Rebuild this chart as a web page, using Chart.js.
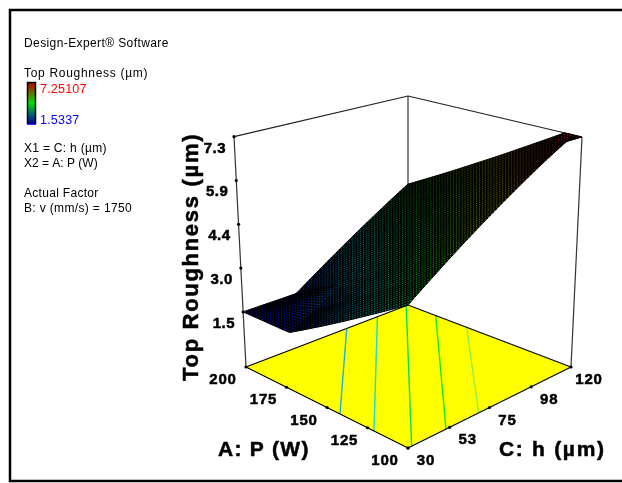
<!DOCTYPE html>
<html>
<head>
<meta charset="utf-8">
<title>Top Roughness</title>
<script src="https://cdn.jsdelivr.net/npm/chart.js@4"></script>
<style>
    html, body { margin: 0; padding: 0; background: #fff; overflow: hidden; }
    canvas { display: block; }
</style>
</head>
<body>
<canvas id="chart" width="622" height="483"></canvas>
<script>
// readings
const hGrid = [30, 45, 59, 75, 98, 112, 120];
const pGrid = [100, 110, 125, 150, 172, 200];
const roughness = [
    [3.85, 4.47, 5.06, 5.73, 6.69, 7.25, 7.25],
    [3.53, 4.12, 4.71, 5.38, 6.34, 6.92, 7.25],
    [3.05, 3.60, 4.18, 4.85, 5.81, 6.39, 6.73],
    [2.24, 2.76, 3.30, 3.96, 4.93, 5.51, 5.85],
    [1.53, 1.96, 2.52, 3.19, 4.15, 4.73, 5.07],
    [1.53, 1.53, 1.53, 2.20, 3.16, 3.75, 4.08]
];

const hTicks = [30, 53, 75, 98, 120];
const pTicks = [200, 175, 150, 125, 100];
const zTicks = [1.53, 2.96, 4.39, 5.82, 7.25];
const zTickLabels = ["1.5", "3.0", "4.4", "5.9", "7.3"];

// floor contours: [h, P] at both ends
const contourEnds = [
    [[86, 200], [30, 142]],
    [[103, 200], [30, 121]],
    [[119, 200], [32, 100]],
    [[120, 183], [51, 100]],
    [[120, 164], [69, 100]]
];
const contourColors = ["#12b4e6", "#17dcd2", "#00e060", "#10e828", "#96ee3c"];

const zFloor = -0.27;
const zMin = 1.53;
const zMax = 7.25;
const meshSize = 60;

// screen position of the box corners
const floorCorners = { L: [246, 367], F: [408, 448], R: [571, 367], B: [408, 305] };
const topCorners = { L: [234, 136.7], F: [408, 187], R: [582, 137], B: [408, 96] };

function bilinear(c, u, v) {
    const f = i => (1 - u) * (1 - v) * c.L[i] + u * (1 - v) * c.F[i] + u * v * c.R[i] + (1 - u) * v * c.B[i];
    return [f(0), f(1)];
}

function project(h, p, z) {
    const u = (200 - p) / 100;
    const v = (h - 30) / 90;
    const a = bilinear(floorCorners, u, v);
    const b = bilinear(topCorners, u, v);
    const t = (z - zFloor) / (zMax - zFloor);
    return { x: a[0] + (b[0] - a[0]) * t, y: a[1] + (b[1] - a[1]) * t };
}

function findCell(list, val) {
    let i = 0;
    while (i < list.length - 2 && val > list[i + 1]) i++;
    return i;
}

// only used to paint the mesh between the readings
function surfaceAt(h, p) {
    const i = findCell(hGrid, h);
    const j = findCell(pGrid, p);
    const a = (h - hGrid[i]) / (hGrid[i + 1] - hGrid[i]);
    const b = (p - pGrid[j]) / (pGrid[j + 1] - pGrid[j]);
    return (1 - a) * (1 - b) * roughness[j][i] + a * (1 - b) * roughness[j][i + 1] +
        (1 - a) * b * roughness[j + 1][i] + a * b * roughness[j + 1][i + 1];
}

function jet(z, alpha) {
    const stops = [[0, 0, 255], [0, 255, 255], [0, 255, 0], [255, 255, 0], [255, 0, 0]];
    const t = Math.min(Math.max((z - zMin) / (zMax - zMin), 0), 1) * 4;
    const i = Math.min(Math.floor(t), 3);
    const k = t - i;
    const c = stops[i].map((s, n) => Math.round(s + (stops[i + 1][n] - s) * k));
    return `rgba(${c[0]},${c[1]},${c[2]},${alpha})`;
}

const surfacePlugin = {
    id: "surface",
    afterDatasetsDraw(chart) {
        const ctx = chart.ctx;
        const sx = chart.scales.x;
        const sy = chart.scales.y;
        const px = (h, p) => {
            const q = project(h, p, surfaceAt(h, p));
            return [sx.getPixelForValue(q.x), sy.getPixelForValue(q.y)];
        };
        ctx.save();
        ctx.lineWidth = 1;
        ctx.strokeStyle = "#000";
        ctx.fillStyle = "#000";
        const dots = [];
        for (let m = 0; m < meshSize; m++) {
            for (let n = meshSize - 1; n >= 0; n--) {
                const p0 = 200 - 100 * m / meshSize;
                const p1 = 200 - 100 * (m + 1) / meshSize;
                const h0 = 30 + 90 * n / meshSize;
                const h1 = 30 + 90 * (n + 1) / meshSize;
                const a = px(h0, p0), b = px(h1, p0), c = px(h1, p1), d = px(h0, p1);
                ctx.beginPath();
                ctx.moveTo(a[0], a[1]);
                ctx.lineTo(b[0], b[1]);
                ctx.lineTo(c[0], c[1]);
                ctx.lineTo(d[0], d[1]);
                ctx.closePath();
                ctx.fill();
                ctx.stroke();
                // bigger mesh cell on screen = more colour left between the black lines
                const area = Math.abs((c[0] - a[0]) * (d[1] - b[1]) - (c[1] - a[1]) * (d[0] - b[0])) / 2;
                dots.push({
                    x: (a[0] + c[0]) / 2,
                    y: (a[1] + c[1]) / 2,
                    z: surfaceAt((h0 + h1) / 2, (p0 + p1) / 2),
                    alpha: Math.min(Math.max((area - 4.2) / 3.5, 0.12), 0.85)
                });
            }
        }
        dots.forEach(dot => {
            ctx.fillStyle = jet(dot.z, dot.alpha);
            ctx.fillRect(dot.x - 0.55, dot.y - 0.55, 1.1, 1.1);
        });
        ctx.restore();
    }
};

const textPlugin = {
    id: "labels",
    afterDraw(chart) {
        const ctx = chart.ctx;
        const sx = chart.scales.x;
        const sy = chart.scales.y;
        const font = "Liberation Sans, Arial, sans-serif";

        function put(str, x, y, size, bold, color, align, spacing) {
            ctx.font = `${bold ? "bold " : ""}${size}px ${font}`;
            ctx.letterSpacing = (spacing || 0) + "px";
            ctx.fillStyle = color || "#000";
            ctx.textAlign = align || "left";
            ctx.textBaseline = "alphabetic";
            ctx.fillText(str, x, y);
            if (bold) {
                ctx.strokeStyle = color || "#000";
                ctx.lineWidth = 0.5;
                ctx.strokeText(str, x, y);
            }
        }

        ctx.save();
        // frame, it runs off the right side of the picture
        ctx.strokeStyle = "#000";
        ctx.lineWidth = 2.5;
        ctx.beginPath();
        ctx.moveTo(622, 10);
        ctx.lineTo(10, 10);
        ctx.lineTo(10, 481);
        ctx.lineTo(622, 481);
        ctx.stroke();

        // info panel
        put("Design-Expert® Software", 24, 47, 12, false, "#000", "left", 0.4);
        put("Top Roughness (µm)", 24, 77, 12, false, "#000", "left", 0.7);
        put("7.25107", 40, 93, 12.5, false, "#ff0000", "left", 0.2);
        put("1.5337", 40, 124, 12.5, false, "#0000ff", "left", 0.2);
        put("X1 = C: h (µm)", 24, 152, 12, false, "#000", "left", 0.3);
        put("X2 = A: P (W)", 24, 167, 12, false, "#000", "left", 0);
        put("Actual Factor", 24, 197, 12, false, "#000", "left", 0.3);
        put("B: v (mm/s) = 1750", 24, 212, 12, false, "#000", "left", 0.35);

        // colour key
        const grad = ctx.createLinearGradient(0, 124, 0, 82);
        grad.addColorStop(0, "#0000a0");
        grad.addColorStop(0.25, "#006a6a");
        grad.addColorStop(0.5, "#00e000");
        grad.addColorStop(0.75, "#6a6a00");
        grad.addColorStop(1, "#b00000");
        ctx.fillStyle = grad;
        ctx.fillRect(27.5, 82.5, 8, 41);
        ctx.lineWidth = 1.5;
        ctx.strokeStyle = "#000";
        ctx.strokeRect(27.5, 82.5, 8, 41);
        ctx.strokeStyle = "#0000ff";
        ctx.beginPath();
        ctx.moveTo(27, 124);
        ctx.lineTo(36, 124);
        ctx.stroke();

        // tick labels
        zTicks.forEach((z, i) => {
            const q = project(30, 200, z);
            put(zTickLabels[i], sx.getPixelForValue(q.x) - 8, sy.getPixelForValue(q.y) + 16, 15, true, "#000", "right", 0.5);
        });
        pTicks.forEach(p => {
            const q = project(30, p, zFloor);
            put(String(p), sx.getPixelForValue(q.x) - 23, sy.getPixelForValue(q.y) + 17, 15, true, "#000", "center", 0.8);
        });
        hTicks.forEach(h => {
            const q = project(h, 100, zFloor);
            put(String(h), sx.getPixelForValue(q.x) + 18, sy.getPixelForValue(q.y) + 17, 15, true, "#000", "center", 0.8);
        });

        // axis titles
        put("A: P (W)", 218, 456, 21, true, "#000", "left", 1.25);
        put("C: h (µm)", 499, 456, 21, true, "#000", "left", 1.7);
        ctx.translate(198, 381);
        ctx.rotate(-Math.PI / 2);
        put("Top Roughness (µm)", 0, 0, 22, true, "#000", "left", 1.7);
        ctx.restore();
    }
};

function edge(a, b, color) {
    return {
        data: [a, b],
        showLine: true,
        borderColor: color || "#000",
        borderWidth: 1.2,
        pointRadius: 0
    };
}

const cL = project(30, 200, zFloor), cF = project(30, 100, zFloor);
const cR = project(120, 100, zFloor), cB = project(120, 200, zFloor);
const tL = project(30, 200, zMax), tR = project(120, 100, zMax), tB = project(120, 200, zMax);

const boxEdges = [
    edge(cL, cF), edge(cF, cR), edge(cR, cB), edge(cB, cL),
    edge(cL, tL, "#333"), edge(cR, tR, "#333"), edge(cB, tB, "#333"),
    edge(tL, tB, "#222"), edge(tB, tR, "#222")
];

const contourSets = contourEnds.map((ends, i) => ({
    data: ends.map(e => project(e[0], e[1], zFloor)),
    showLine: true,
    borderColor: contourColors[i],
    borderWidth: 1.4,
    pointRadius: 0
}));

const tickDots = {
    data: [
        ...zTicks.map(z => project(30, 200, z)),
        ...pTicks.map(p => project(30, p, zFloor)),
        ...hTicks.map(h => project(h, 100, zFloor))
    ],
    showLine: false,
    pointRadius: 1.6,
    backgroundColor: "#000",
    borderWidth: 0
};

const floorSet = {
    data: [cL, cF, cR, cB, cL],
    showLine: true,
    borderWidth: 0,
    pointRadius: 0,
    backgroundColor: "#ffff00",
    fill: "shape"
};

new Chart(document.getElementById("chart"), {
    type: "scatter",
    data: { datasets: [tickDots, ...boxEdges, ...contourSets, floorSet] },
    options: {
        responsive: false,
        animation: false,
        clip: false,
        layout: { padding: 0, autoPadding: false },
        plugins: { legend: { display: false }, tooltip: { enabled: false } },
        scales: {
            x: { type: "linear", min: 0, max: 622, display: false },
            y: { type: "linear", min: 0, max: 483, reverse: true, display: false }
        }
    },
    plugins: [surfacePlugin, textPlugin]
});
</script>
</body>
</html>
